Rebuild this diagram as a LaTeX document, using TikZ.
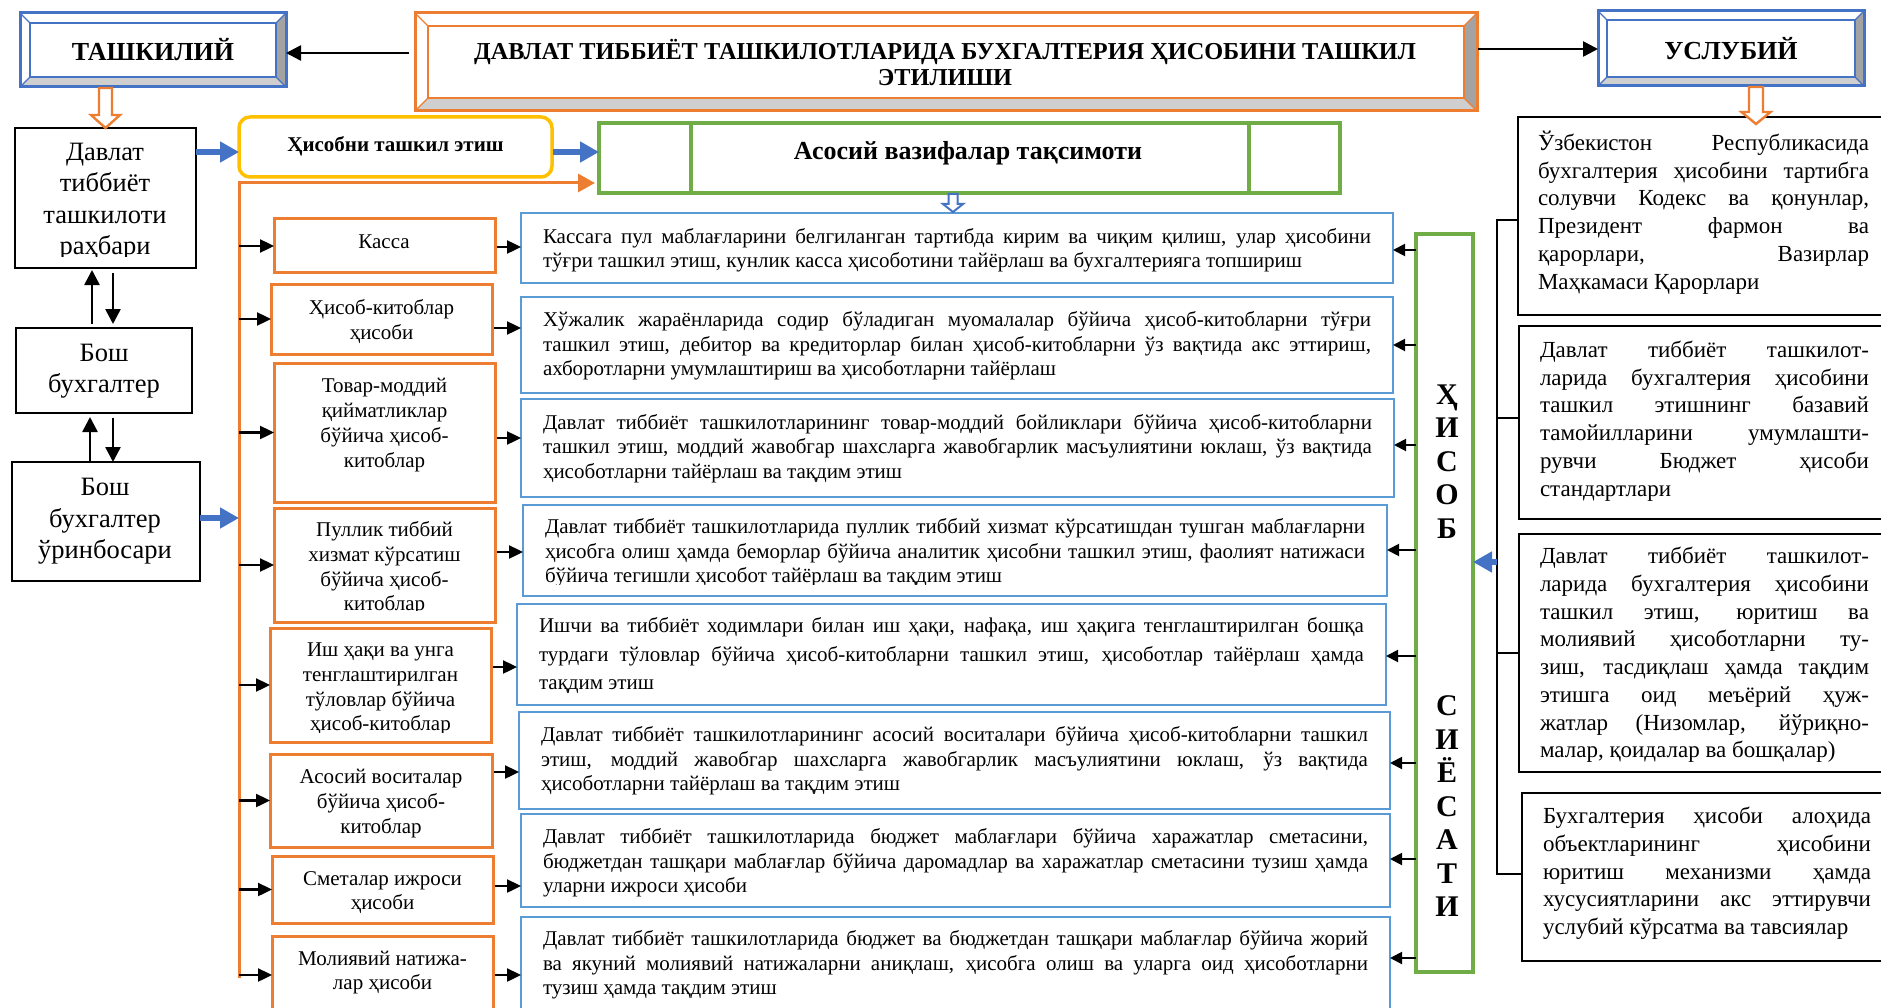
\documentclass[tikz,border=0pt]{standalone}
\usepackage{fontspec}
\setmainfont{Liberation Serif}
\usetikzlibrary{arrows.meta,calc}

\definecolor{blueA}{HTML}{4472C4}
\definecolor{blueL}{HTML}{5B9BD5}
\definecolor{orangeA}{HTML}{ED7D31}
\definecolor{greenA}{HTML}{70AD47}
\definecolor{yellowA}{HTML}{FFC000}
\definecolor{bevlight}{HTML}{CFCFCF}
\definecolor{bevdark}{HTML}{A3A3A3}

% a justified line of fixed width
\newcommand\jl[1]{\makebox[\linewidth][s]{\spaceskip=0pt\xspaceskip=0pt #1}\\}

% bevelled frame: x1,y1,x2,y2,bevel,colour
\newcommand\bevel[6]{%
  \fill[white] (#1,#2) rectangle (#3,#4);
  \fill[bevlight] (#1,#4) -- (#3,#4) -- ({#3-#5},{#4-#5}) -- ({#1+#5},{#4-#5}) -- cycle;
  \fill[bevdark] (#3,#2) -- (#3,#4) -- ({#3-#5},{#4-#5}) -- ({#3-#5},{#2+#5}) -- cycle;
  \draw[#6, line width=1.8pt] ({#1+#5},{#2+#5}) rectangle ({#3-#5},{#4-#5});
  \draw[#6, line width=1.2pt] (#1,#2) -- ({#1+#5},{#2+#5}) (#3,#2) -- ({#3-#5},{#2+#5})
     (#1,#4) -- ({#1+#5},{#4-#5}) (#3,#4) -- ({#3-#5},{#4-#5});
  \draw[#6, line width=3pt] (#1,#2) rectangle (#3,#4);}

% hollow block arrow pointing down: from, to, shaft half, head half, head length, colour, width
\newcommand\downblock[7]{%
  \draw[#6, line width=#7, fill=white, line join=miter]
    let \p1=(#1), \p2=(#2) in
    ({\x1-#3pt},\y1) -- ({\x1-#3pt},{\y2+#5pt}) -- ({\x1-#4pt},{\y2+#5pt}) -- (\x1,\y2)
    -- ({\x1+#4pt},{\y2+#5pt}) -- ({\x1+#3pt},{\y2+#5pt}) -- ({\x1+#3pt},\y1) -- cycle;}

\newcommand\hdfont{\bfseries\fontsize{26}{30}\selectfont}

\tikzset{
  karr/.style={black, line width=2.6pt, -{Triangle[length=15pt,width=15pt]}},
  sarr/.style={black, line width=2.4pt, -{Triangle[length=14pt,width=13pt]}},
  garr/.style={black, line width=2pt, -{Triangle[length=12pt,width=12pt]}},
  barr/.style={blueA, line width=6pt, -{Triangle[length=19pt,width=20pt]}},
  oarr/.style={orangeA, line width=3pt, line join=miter, -{Triangle[length=17pt,width=18pt]}},
  kline/.style={black, line width=2.4pt},
  kbox/.style={draw=black, line width=2.4pt, fill=white},
  obox/.style={draw=orangeA, line width=3pt, fill=white},
  dbox/.style={draw=blueL, line width=2.6pt, fill=white},
  ltext/.style={align=center, font=\fontsize{26.5}{31.5}\selectfont},
  otext/.style={align=center, font=\fontsize{21}{24.8}\selectfont},
  dtext/.style={align=flush left, font=\fontsize{21}{24.3}\selectfont},
  rtext/.style={align=flush left, font=\fontsize{23}{27.7}\selectfont},
  vtext/.style={align=center, font=\bfseries\fontsize{30}{33.5}\selectfont},
}

\begin{document}
\begin{tikzpicture}[x=1pt, y=-1pt, every node/.style={inner sep=0pt, outer sep=0pt}]
\useasboundingbox (0,0) rectangle (1881,1008);
\fill[white] (0,0) rectangle (1881,1008);

% ---------- header ----------
\bevel{20}{13}{286}{87}{10}{blueA}
\node[minimum width=266pt, minimum height=74pt, font=\hdfont] (tashk) at (153,50) {ТАШКИЛИЙ};
\bevel{415}{13}{1477}{111}{13}{orangeA}
\node[minimum width=1062pt, minimum height=98pt] (titlebox) at (946,62) {};
\node[align=center, font=\bfseries\fontsize{24.3}{26}\selectfont] (titletext) at (945,63)
  {ДАВЛАТ ТИББИЁТ ТАШКИЛОТЛАРИДА БУХГАЛТЕРИЯ ҲИСОБИНИ ТАШКИЛ\\ЭТИЛИШИ};
\bevel{1598}{11}{1864}{86}{9}{blueA}
\node[minimum width=266pt, minimum height=75pt, font=\hdfont] (uslub) at (1731,48.5) {УСЛУБИЙ};

\draw[karr] ($(titlebox.west)+(-6,-9)$) coordinate (ta) -- (ta -| tashk.east);
\draw[karr] ($(titlebox.east)+(1,-13)$) coordinate (tb) -- (tb -| uslub.west);

% ---------- left column ----------
\node[kbox, minimum width=181pt, minimum height=140pt] (b1) at (105.5,198) {};
\begin{scope}
  \clip ($(b1.south west)+(0,-11)$) rectangle (b1.north east);
  \node[ltext] (b1t) at (105,201.5) {Давлат\\тиббиёт\\ташкилоти\\раҳбари};
\end{scope}
\node[kbox, minimum width=176pt, minimum height=85pt] (b2) at (104,370.5) {};
\node[ltext] (b2t) at (104,371) {Бош\\бухгалтер};
\node[kbox, minimum width=188pt, minimum height=119pt] (b3) at (106,521.5) {};
\node[ltext] (b3t) at (105,521.5) {Бош\\бухгалтер\\ўринбосари};

\downblock{$(b1.north |- tashk.south)+(0,1)$}{b1.north}{6.5}{14.5}{13}{orangeA}{2.4pt}

\draw[karr, shorten <=4pt, shorten >=2pt] (b2.north -| 92,0) -- (b1.south -| 92,0);
\draw[karr, shorten <=5pt, shorten >=4pt] (b1.south -| 113,0) -- (b2.north -| 113,0);
\draw[karr, shorten >=4pt] (b3.north -| 90,0) -- (b2.south -| 90,0);
\draw[karr, shorten <=5pt] (b2.south -| 113,0) -- (b3.north -| 113,0);

% ---------- organisation row ----------
\node[draw=yellowA, line width=3.5pt, rounded corners=11pt, fill=white,
      minimum width=313pt, minimum height=60pt] (ybox) at (395.5,147) {};
\node[font=\bfseries\fontsize{21}{25}\selectfont] (yboxt) at (395.5,146) {Ҳисобни ташкил этиш};

\node[draw=greenA, line width=3.5pt, fill=white, minimum width=741pt, minimum height=70pt] (mbox) at (969.5,158) {};
\draw[greenA, line width=3.5pt] ($(mbox.north west)+(92,0)$) -- ($(mbox.south west)+(92,0)$)
  ($(mbox.north east)+(-91,0)$) -- ($(mbox.south east)+(-91,0)$);
\node[font=\bfseries\fontsize{26}{30}\selectfont] (mboxt) at (968,153) {Асосий вазифалар тақсимоти};

\draw[barr] ($(b1.north east)+(0,24)$) coordinate (ba) -- (ba -| ybox.west);
\draw[barr] ($(ybox.east)+(1,5)$) coordinate (bb) -- (bb -| mbox.west);

\coordinate (vtop) at (239,183);
\coordinate (vbot) at (239,978);
\draw[oarr, shorten >=4pt] (vbot) -- (vtop) -- (vtop -| mbox.west);
\draw[barr] ($(b3.east)+(0,-3.5)$) coordinate (bc) -- (bc -| vtop);

% ---------- account sections ----------
\node[obox, minimum width=221pt, minimum height=54pt]  (o1) at (384.5,246) {};
\node[obox, minimum width=221pt, minimum height=70pt]  (o2) at (381.5,319) {};
\node[obox, minimum width=221pt, minimum height=139pt] (o3) at (384.5,432.5) {};
\node[obox, minimum width=221pt, minimum height=114pt] (o4) at (384.5,565) {};
\node[obox, minimum width=221pt, minimum height=114pt] (o5) at (380.5,685) {};
\node[obox, minimum width=222pt, minimum height=93pt]  (o6) at (381,800.5) {};
\node[obox, minimum width=221pt, minimum height=67pt]  (o7) at (382.5,889.5) {};
\node[obox, minimum width=221pt, minimum height=78pt]  (o8) at (382.5,975) {};

\node[otext] (o1t) at (384,242) {Касса};
\node[otext] (o2t) at (381.5,321.5) {Ҳисоб-китоблар\\ҳисоби};
\node[otext] (o3t) at (384.5,425) {Товар-моддий\\қийматликлар\\бўйича ҳисоб-\\китоблар};
\begin{scope}
  \clip ($(o4.south west)+(0,-12)$) rectangle (o4.north east);
  \node[otext] (o4t) at (384.5,568.5) {Пуллик тиббий\\хизмат кўрсатиш\\бўйича ҳисоб-\\китоблар};
\end{scope}
\begin{scope}
  \clip ($(o5.south west)+(0,-10)$) rectangle (o5.north east);
  \node[otext] (o5t) at (380.5,689) {Иш ҳақи ва унга\\тенглаштирилган\\тўловлар бўйича\\ҳисоб-китоблар};
\end{scope}
\node[otext] (o6t) at (381,803.5) {Асосий воситалар\\бўйича ҳисоб-\\китоблар};
\node[otext] (o7t) at (382.5,892.5) {Сметалар ижроси\\ҳисоби};
\node[otext] (o8t) at (382.5,972.5) {Молиявий натижа-\\лар ҳисоби};

\foreach \k in {1,...,8} {\draw[sarr] (vtop |- o\k.west) -- (o\k.west);}

% ---------- task descriptions ----------
\node[dbox, minimum width=872pt, minimum height=70pt]  (d1) at (957,248) {};
\node[dbox, minimum width=872pt, minimum height=96pt]  (d2) at (957,345) {};
\node[dbox, minimum width=873pt, minimum height=98pt]  (d3) at (957.5,448) {};
\node[dbox, minimum width=864pt, minimum height=91pt]  (d4) at (955,550.5) {};
\node[dbox, minimum width=869pt, minimum height=101pt] (d5) at (951.5,654.5) {};
\node[dbox, minimum width=871pt, minimum height=97pt]  (d6) at (954.5,760.5) {};
\node[dbox, minimum width=869pt, minimum height=93pt]  (d7) at (955.5,860.5) {};
\node[dbox, minimum width=869pt, minimum height=97pt]  (d8) at (955.5,965.5) {};

\node[dtext, text width=828pt] (d1t) at (957,250) {%
  \jl{Кассага пул маблағларини белгиланган тартибда кирим ва чиқим қилиш, улар ҳисобини}
  тўғри ташкил этиш, кунлик касса ҳисоботини тайёрлаш ва бухгалтерияга топшириш};
\node[dtext, text width=828pt] (d2t) at (957,346) {%
  \jl{Хўжалик жараёнларида содир бўладиган муомалалар бўйича ҳисоб-китобларни тўғри}
  \jl{ташкил этиш, дебитор ва кредиторлар билан ҳисоб-китобларни ўз вақтида акс эттириш,}
  ахборотларни умумлаштириш ва ҳисоботларни тайёрлаш};
\node[dtext, text width=829pt] (d3t) at (957.5,448.5) {%
  \jl{Давлат тиббиёт ташкилотларининг товар-моддий бойликлари бўйича ҳисоб-китобларни}
  \jl{ташкил этиш, моддий жавобгар шахсларга жавобгарлик масъулиятини юклаш, ўз вақтида}
  ҳисоботларни тайёрлаш ва тақдим этиш};
\begin{scope}
  \clip ($(d4.south west)+(0,-12)$) rectangle (d4.north east);
  \node[dtext, text width=820pt] (d4t) at (955,553) {%
    \jl{Давлат тиббиёт ташкилотларида пуллик тиббий хизмат кўрсатишдан тушган маблағларни}
    \jl{ҳисобга олиш ҳамда беморлар бўйича аналитик ҳисобни ташкил этиш, фаолият натижаси}
    бўйича тегишли ҳисобот тайёрлаш ва тақдим этиш};
\end{scope}
\node[dtext, text width=825pt, font=\fontsize{21}{28.5}\selectfont] (d5t) at (951.5,656) {%
  \jl{Ишчи ва тиббиёт ходимлари билан иш ҳақи, нафақа, иш ҳақига тенглаштирилган бошқа}
  \jl{турдаги тўловлар бўйича ҳисоб-китобларни ташкил этиш, ҳисоботлар тайёрлаш ҳамда}
  тақдим этиш};
\node[dtext, text width=827pt] (d6t) at (954.5,761) {%
  \jl{Давлат тиббиёт ташкилотларининг асосий воситалари бўйича ҳисоб-китобларни ташкил}
  \jl{этиш, моддий жавобгар шахсларга жавобгарлик масъулиятини юклаш, ўз вақтида}
  ҳисоботларни тайёрлаш ва тақдим этиш};
\node[dtext, text width=825pt] (d7t) at (955.5,863) {%
  \jl{Давлат тиббиёт ташкилотларида бюджет маблағлари бўйича харажатлар сметасини,}
  \jl{бюджетдан ташқари маблағлар бўйича даромадлар ва харажатлар сметасини тузиш ҳамда}
  уларни ижроси ҳисоби};
\node[dtext, text width=825pt] (d8t) at (955.5,965) {%
  \jl{Давлат тиббиёт ташкилотларида бюджет ва бюджетдан ташқари маблағлар бўйича жорий}
  \jl{ва якуний молиявий натижаларни аниқлаш, ҳисобга олиш ва уларга оид ҳисоботларни}
  тузиш ҳамда тақдим этиш};

\downblock{$(mbox.south)+(-16.5,1)$}{$(d1.north -| mbox.south)+(-16.5,-1)$}{4.5}{10}{8}{blueA}{2pt}

\foreach \k/\yy in {1/247,2/328,3/438,4/552,5/667,6/772,7/886,8/975}
  {\draw[sarr] ($(o\k.east |- 0,\yy)+(2,0)$) -- (d\k.west |- 0,\yy);}

% ---------- policy column ----------
\node[draw=greenA, line width=4pt, fill=white, minimum width=57pt, minimum height=738pt] (gbox) at (1444.5,603) {};
\node[vtext] (gtop) at (1447,461.5) {Ҳ\\И\\С\\О\\Б};
\node[vtext] (gbot) at (1447,806.5) {С\\И\\Ё\\С\\А\\Т\\И};

\foreach \k/\yy in {1/250,2/345,3/445,4/550,5/656,6/763,7/859,8/958}
  {\draw[garr] (gbox.west |- 0,\yy) -- (d\k.east |- 0,\yy);}

% ---------- methodological documents ----------
\node[kbox, minimum width=374pt, minimum height=198pt] (r1) at (1705,216) {};
\node[kbox, minimum width=373pt, minimum height=193pt] (r2) at (1705.5,422.5) {};
\node[kbox, minimum width=373pt, minimum height=238pt] (r3) at (1705.5,653) {};
\node[kbox, minimum width=370pt, minimum height=168pt] (r4) at (1707,877) {};

\node[rtext, text width=331pt] (r1t) at (1703.5,212.5) {%
  \jl{Ўзбекистон Республикасида}
  \jl{бухгалтерия ҳисобини тартибга}
  \jl{солувчи Кодекс ва қонунлар,}
  \jl{Президент фармон ва}
  \jl{қарорлари, Вазирлар}
  Маҳкамаси Қарорлари};
\node[rtext, text width=329pt] (r2t) at (1704.5,421) {%
  \jl{Давлат тиббиёт ташкилот-}
  \jl{ларида бухгалтерия ҳисобини}
  \jl{ташкил этишнинг базавий}
  \jl{тамойилларини умумлашти-}
  \jl{рувчи Бюджет ҳисоби}
  стандартлари};
\node[rtext, text width=329pt] (r3t) at (1704.5,655) {%
  \jl{Давлат тиббиёт ташкилот-}
  \jl{ларида бухгалтерия ҳисобини}
  \jl{ташкил этиш, юритиш ва}
  \jl{молиявий ҳисоботларни ту-}
  \jl{зиш, тасдиқлаш ҳамда тақдим}
  \jl{этишга оид меъёрий ҳуж-}
  \jl{жатлар (Низомлар, йўриқно-}
  малар, қоидалар ва бошқалар)};
\node[rtext, text width=328pt] (r4t) at (1707,873.5) {%
  \jl{Бухгалтерия ҳисоби алоҳида}
  \jl{объектларининг ҳисобини}
  \jl{юритиш механизми ҳамда}
  \jl{хусусиятларини акс эттирувчи}
  услубий кўрсатма ва тавсиялар};

\downblock{$(uslub.south)+(25,1)$}{$(r1.north -| uslub.south)+(25,7)$}{7}{14.5}{12}{orangeA}{2.4pt}

\coordinate (brtop) at (1497,220);
\coordinate (brbot) at (1497,874);
\draw[kline] (r1.west |- brtop) -- (brtop) -- (brbot) -- (r4.west |- brbot);
\draw[kline] (brtop |- 0,418) -- (r2.west |- 0,418);
\draw[kline] (brtop |- 0,653) -- (r3.west |- 0,653);
\draw[barr] (brtop |- 0,562) -- (gbox.east |- 0,562);

\end{tikzpicture}
\end{document}
